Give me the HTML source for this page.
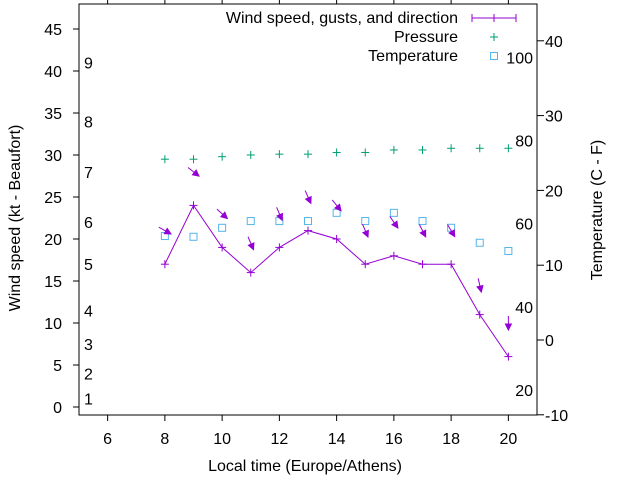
<!DOCTYPE html>
<html><head><meta charset="utf-8"><style>
body{margin:0;background:#fff}
svg text{font-family:"Liberation Sans",sans-serif;font-size:16px;fill:#000}
</style></head><body>
<svg id="c" width="640" height="480" xmlns="http://www.w3.org/2000/svg"></svg>
<script>
const hours=[8,9,10,11,12,13,14,15,16,17,18,19,20];
const windSpeed=[17,24,19,16,19,21,20,17,18,17,17,11,6];
const gust=[21,28,23,19.5,23,25,24,21,22,21,21,14.5,10];
const windDir=[299,308,312,337,337,336,321,337,325,333,329,347,360];
const pressure=[29.5,29.5,29.8,30.0,30.1,30.1,30.3,30.3,30.6,30.6,30.8,30.8,30.8];
const temperature=[13.9,13.8,15,15.9,15.9,15.9,17,15.9,17,15.9,15,13,11.9];
const xTicks=[6,8,10,12,14,16,18,20];
const yTicks=[0,5,10,15,20,25,30,35,40,45];
const y2Ticks=[-10,0,10,20,30,40];
const beaufort=[[1,1],[2,4],[3,7.5],[4,11.5],[5,17],[6,22],[7,28],[8,34],[9,41]];
const fahr=[20,40,60,80,100];

const L=79,R=537,T=4,B=415;
const X=h=>L+(h-5)/16*(R-L);
const Y=v=>407-v*8.4;
const Y2=c=>340-c*7.48;
const ns="http://www.w3.org/2000/svg";
const svg=document.getElementById('c');
function mk(tag,attrs,parent){const e=document.createElementNS(ns,tag);for(const k in attrs)e.setAttribute(k,attrs[k]);(parent||svg).appendChild(e);return e;}
function txt(s,x,y,anchor,name){const t=mk('text',{x:x,y:y,'text-anchor':anchor});t.textContent=s;


return t;}

// frame
const fr=mk('rect',{x:L,y:T,width:R-L,height:B-T,fill:'none',stroke:'#000','stroke-width':1});


xTicks.forEach(h=>{
  mk('line',{x1:X(h),x2:X(h),y1:B,y2:B+6,stroke:'#000'});
  mk('line',{x1:X(h),x2:X(h),y1:T,y2:T-6,stroke:'#000'});
  txt(String(h),X(h),444,'middle','x-tick-label');
});
yTicks.forEach(v=>{
  mk('line',{x1:L,x2:L-6,y1:Y(v),y2:Y(v),stroke:'#000'});
  txt(String(v),62,Y(v)+6,'end','y-tick-label');
});
y2Ticks.forEach(c=>{
  mk('line',{x1:R,x2:R+7,y1:Y2(c),y2:Y2(c),stroke:'#000'});
  txt(String(c),545,Y2(c)+6,'start','y2-tick-label');
});
beaufort.forEach(b=>txt(String(b[0]),84,Y(b[1])+6,'start','beaufort-label'));
fahr.forEach(f=>txt(String(f),533,Y2((f-32)*5/9)+6,'end','fahrenheit-label'));

txt('Local time (Europe/Athens)',305,471,'middle','x-axis-title');
const yt=txt('Wind speed (kt - Beaufort)',0,0,'middle','y-axis-title');yt.setAttribute('transform','translate(20,218) rotate(-90)');
const y2t=txt('Temperature (C - F)',0,0,'middle','y2-axis-title');y2t.setAttribute('transform','translate(602,210) rotate(-90)');

// pressure
pressure.forEach((p,i)=>{const g=mk('g',{stroke:'#009e73','stroke-width':1});


const x=X(hours[i]),y=Y(p);mk('line',{x1:x-4,x2:x+4,y1:y,y2:y},g);mk('line',{x1:x,x2:x,y1:y-4,y2:y+4},g);});
// temperature
temperature.forEach((c,i)=>{const r=mk('rect',{x:X(hours[i])-3.5,y:Y2(c)-3.5,width:7,height:7,fill:'none',stroke:'#56b4e9'});

});
// wind line
const wl=mk('polyline',{points:hours.map((h,i)=>X(h)+','+Y(windSpeed[i])).join(' '),fill:'none',stroke:'#9400d3','stroke-width':1});


windSpeed.forEach((w,i)=>{const g=mk('g',{stroke:'#9400d3'});


const x=X(hours[i]),y=Y(w);mk('line',{x1:x-4,x2:x+4,y1:y,y2:y},g);mk('line',{x1:x,x2:x,y1:y-4,y2:y+4},g);});
// gust arrows
gust.forEach((gv,i)=>{const a=(windDir[i]+180)*Math.PI/180;const dx=Math.sin(a),dy=-Math.cos(a);
const cx=X(hours[i]),cy=Y(gv);const len=14;const x1=cx-dx*len/2,y1=cy-dy*len/2,x2=cx+dx*len/2,y2=cy+dy*len/2;
const g=mk('g',{stroke:'#9400d3',fill:'#9400d3'});


mk('line',{x1:x1,y1:y1,x2:x2,y2:y2},g);
const px=-dy,py=dx;mk('polygon',{points:`${x2},${y2} ${x2-dx*6+px*3},${y2-dy*6+py*3} ${x2-dx*6-px*3},${y2-dy*6-py*3}`},g);});

// legend
txt('Wind speed, gusts, and direction',458,23,'end','legend-wind-label');
const lg=mk('g',{stroke:'#9400d3'});


mk('line',{x1:472,x2:516,y1:18,y2:18},lg);[472,494,516].forEach(x=>mk('line',{x1:x,x2:x,y1:14,y2:22},lg));
txt('Pressure',458,42,'end','legend-pressure-label');
const lp=mk('g',{stroke:'#009e73'});


mk('line',{x1:490,x2:498,y1:37,y2:37},lp);mk('line',{x1:494,x2:494,y1:33,y2:41},lp);
txt('Temperature',458,61,'end','legend-temperature-label');
const lt=mk('rect',{x:490.5,y:52.5,width:7,height:7,fill:'none',stroke:'#56b4e9'});


</script>
</body></html>
